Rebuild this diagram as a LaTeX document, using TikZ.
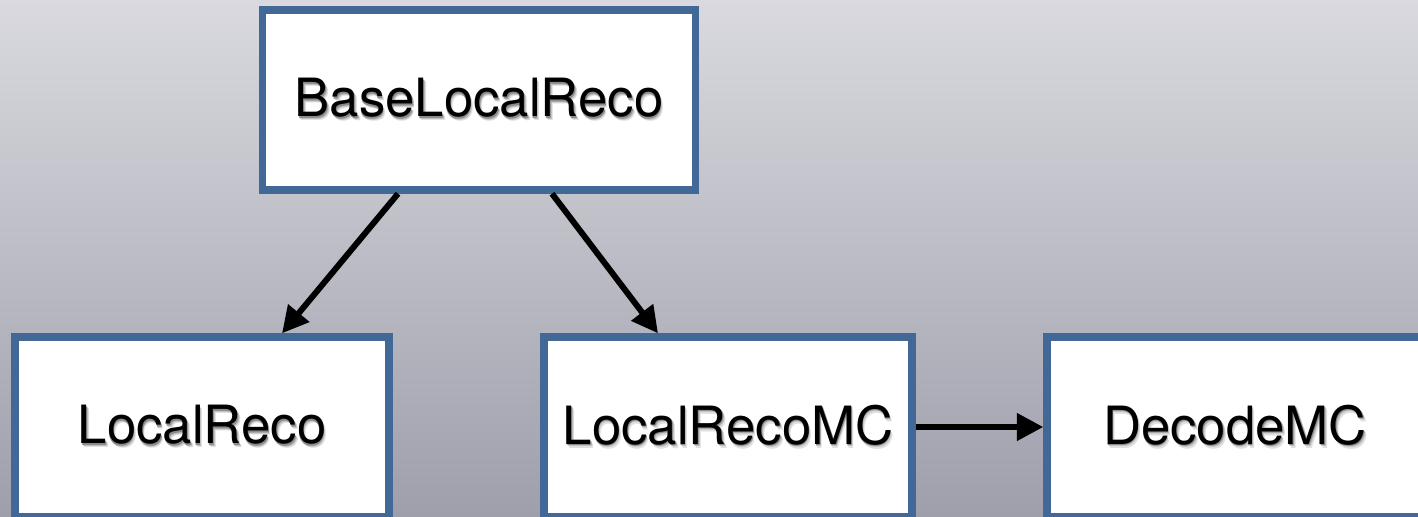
\documentclass[tikz,border=0pt]{standalone}
\usepackage{fontspec}
\usepackage{tikz}
\usetikzlibrary{arrows.meta}

\newfontfamily\helv{TeX Gyre Heros}
\definecolor{bgtop}{RGB}{217,217,223}
\definecolor{bgbot}{RGB}{158,159,171}
\definecolor{boxblue}{RGB}{66,104,152}

% text with a soft drop shadow behind it
\newcommand\shadowed[1]{%
  \rlap{\hspace{0.7pt}\raisebox{-1.1pt}{\color{black!12}#1}}%
  \rlap{\hspace{0.45pt}\raisebox{-0.75pt}{\color{black!25}#1}}%
  \rlap{\hspace{0.2pt}\raisebox{-0.4pt}{\color{black!45}#1}}%
  #1}

\begin{document}
\begin{tikzpicture}
  [every node/.style={rectangle, draw=boxblue, line width=2.1pt, fill=white,
     minimum height=1.8cm, font=\helv\fontsize{15}{18}\selectfont},
   arr/.style={-{Triangle[length=7.5pt,width=7.5pt]}, line width=1.7pt}]
  \path[use as bounding box] (0,0) rectangle (14.18,5.16);
  \clip (0,0) rectangle (14.18,5.16);
  \shade[top color=bgtop, bottom color=bgbot] (0,0) rectangle (14.18,5.16);

  \node[minimum width=4.33cm] (base) at (4.79,4.16) {\shadowed{BaseLocalReco}};
  \node[minimum width=3.74cm] (loc) at (2.02,0.89) {\shadowed{LocalReco}};
  \node[minimum width=3.68cm] (mc) at (7.28,0.89) {\shadowed{LocalRecoMC}};
  \node[minimum width=3.76cm] (dec) at (12.35,0.89) {\shadowed{DecodeMC}};

  \draw[arr] ([xshift=-0.81cm]base.south) -- ([xshift=0.80cm]loc.north);
  \draw[arr] ([xshift=0.73cm]base.south) -- ([xshift=-0.70cm]mc.north);
  \draw[arr] (mc) -- (dec);
\end{tikzpicture}
\end{document}
